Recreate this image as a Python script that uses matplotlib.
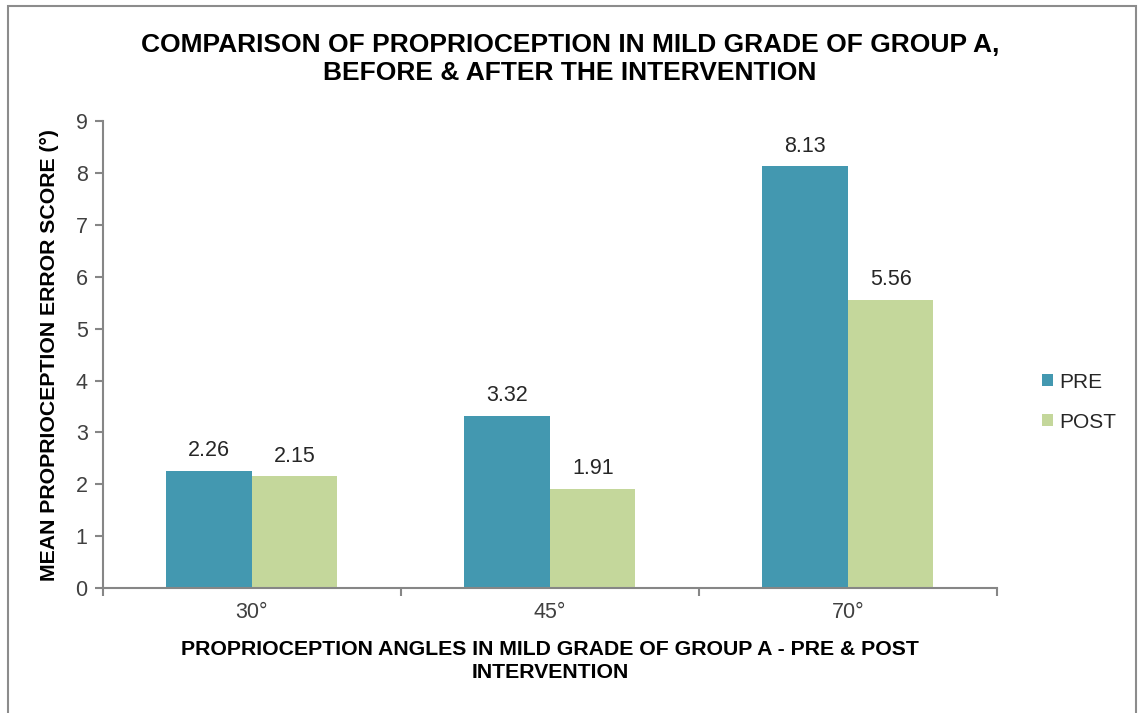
import numpy as np
import matplotlib.pyplot as plt
from matplotlib.patches import Rectangle

plt.rcParams['font.family'] = ['Liberation Sans', 'DejaVu Sans']

categories = ["30°", "45°", "70°"]
pre_values = [2.26, 3.32, 8.13]
post_values = [2.15, 1.91, 5.56]
series_names = ["PRE", "POST"]

pre_color = "#4398B0"
post_color = "#C4D79B"
axis_grey = "#868686"
text_dark = "#404040"


def main():
	fig = plt.figure(figsize=(11.38, 7.13), dpi=100)
	fig.patches.append(Rectangle((0.007, -0.01), 0.991, 1.001, transform=fig.transFigure,
		fill=False, edgecolor="#8c8c8c", linewidth=1.5))
	ax = fig.add_axes([0.0905, 0.1753, 0.7855, 0.6547])

	x = np.arange(len(categories))
	width = 0.287
	bars_pre = ax.bar(x - width / 2, pre_values, width, color=pre_color, label=series_names[0])
	bars_post = ax.bar(x + width / 2, post_values, width, color=post_color, label=series_names[1])

	for bars in (bars_pre, bars_post):
		for b in bars:
			ax.annotate(f"{b.get_height():.2f}", (b.get_x() + b.get_width() / 2, b.get_height()),
				xytext=(0, 7), textcoords="offset points", ha="center", va="bottom",
				fontsize=15.5, color="#262626")

	ax.set_xlim(-0.5, len(categories) - 0.5)
	ax.set_ylim(0, 9)
	ax.set_yticks(range(10))
	ax.set_xticks(x)
	ax.set_xticklabels(categories)
	ax.set_xticks(np.arange(len(categories) + 1) - 0.5, minor=True)
	ax.tick_params(axis="x", which="major", length=0, pad=10, labelsize=15.5, labelcolor=text_dark)
	ax.tick_params(axis="x", which="minor", length=6, color=axis_grey, width=1.5)
	ax.tick_params(axis="y", length=6, color=axis_grey, width=1.5, labelsize=15.5,
		labelcolor=text_dark, pad=5)

	for s in ("top", "right"):
		ax.spines[s].set_visible(False)
	for s in ("left", "bottom"):
		ax.spines[s].set_color(axis_grey)
		ax.spines[s].set_linewidth(1.5)

	ax.set_ylabel("MEAN PROPRIOCEPTION ERROR SCORE (°)", fontsize=15.3, fontweight="bold",
		labelpad=12)
	ax.set_xlabel("PROPRIOCEPTION ANGLES IN MILD GRADE OF GROUP A - PRE & POST\nINTERVENTION",
		fontsize=15.3, fontweight="bold", labelpad=12, linespacing=1.3)

	fig.text(0.501, 0.917, "COMPARISON OF PROPRIOCEPTION IN MILD GRADE OF GROUP A,\nBEFORE & AFTER THE INTERVENTION",
		ha="center", va="center", fontsize=19, fontweight="bold", linespacing=1.2)

	leg = ax.legend(loc="center left", bbox_to_anchor=(1.03, 0.398), frameon=False,
		fontsize=15, handlelength=0.5, handleheight=0.5, handletextpad=0.3, labelspacing=1.0)
	for t in leg.get_texts():
		t.set_color("#262626")

	plt.savefig("out.png", dpi=100)


if __name__ == '__main__':
	main()
